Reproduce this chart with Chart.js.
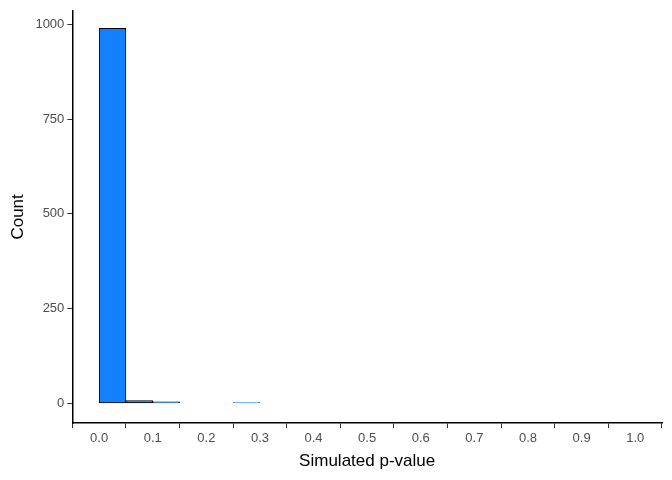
<!DOCTYPE html>
<html>
<head>
<meta charset="utf-8">
<script src="https://cdn.jsdelivr.net/npm/chart.js@4"></script>
<style>
  html, body { margin: 0; padding: 0; background: #fff; }
  #wrap { width: 672px; height: 480px; }
</style>
</head>
<body>
<div id="wrap"><canvas id="histChart" width="672" height="480"></canvas></div>
<script>
// Bin centres (width 0.05) and counts
const binCenters = [0.025, 0.075, 0.125, 0.175, 0.225, 0.275, 0.325, 0.375, 0.425, 0.475,
                    0.525, 0.575, 0.625, 0.675, 0.725, 0.775, 0.825, 0.875, 0.925, 0.975];
const counts = [990, 7, 4, 0, 0, 2, 0, 0, 0, 0, 0, 0, 0, 0, 0, 0, 0, 0, 0, 0];
const xTicks = [0, 0.1, 0.2, 0.3, 0.4, 0.5, 0.6, 0.7, 0.8, 0.9, 1.0];
const yTicks = [0, 250, 500, 750, 1000];

const tickFont = { family: 'Liberation Sans, Arial, sans-serif', size: 13 };
const titleFont = { family: 'Liberation Sans, Arial, sans-serif', size: 17 };

new Chart(document.getElementById('histChart'), {
    type: 'bar',
    data: {
        datasets: [{
            data: binCenters.map((x, i) => ({ x: x, y: counts[i] })),
            backgroundColor: '#1380ff',
            borderColor: '#000',
            borderWidth: 1,
            borderSkipped: false,
            barPercentage: 1,
            categoryPercentage: 1,
            base: 0
        }]
    },
    options: {
        responsive: false,
        animation: false,
        layout: { padding: { top: 8, right: 10, left: 4, bottom: 4 } },
        plugins: { legend: { display: false }, tooltip: { enabled: false } },
        scales: {
            x: {
                type: 'linear',
                offset: false,
                min: -0.05,
                max: 1.05,
                afterBuildTicks: (axis) => { axis.ticks = xTicks.map(v => ({ value: v })); },
                ticks: { color: '#4d4d4d', font: tickFont, maxRotation: 0, autoSkip: false,
                         callback: (v) => Number(v).toFixed(1) },
                grid: { display: true, drawOnChartArea: false, drawTicks: true, tickLength: 5, tickColor: '#333' },
                border: { color: '#000', width: 1.5 },
                title: { display: true, text: 'Simulated p-value', color: '#000', font: titleFont, padding: { top: 2 } }
            },
            y: {
                min: -52,
                max: 1036,
                afterBuildTicks: (axis) => { axis.ticks = yTicks.map(v => ({ value: v })); },
                ticks: { color: '#4d4d4d', font: tickFont, callback: (v) => String(v) },
                grid: { display: true, drawOnChartArea: false, drawTicks: true, tickLength: 5, tickColor: '#333' },
                border: { color: '#000', width: 1.5 },
                title: { display: true, text: 'Count', color: '#000', font: titleFont }
            }
        }
    }
});
</script>
</body>
</html>
